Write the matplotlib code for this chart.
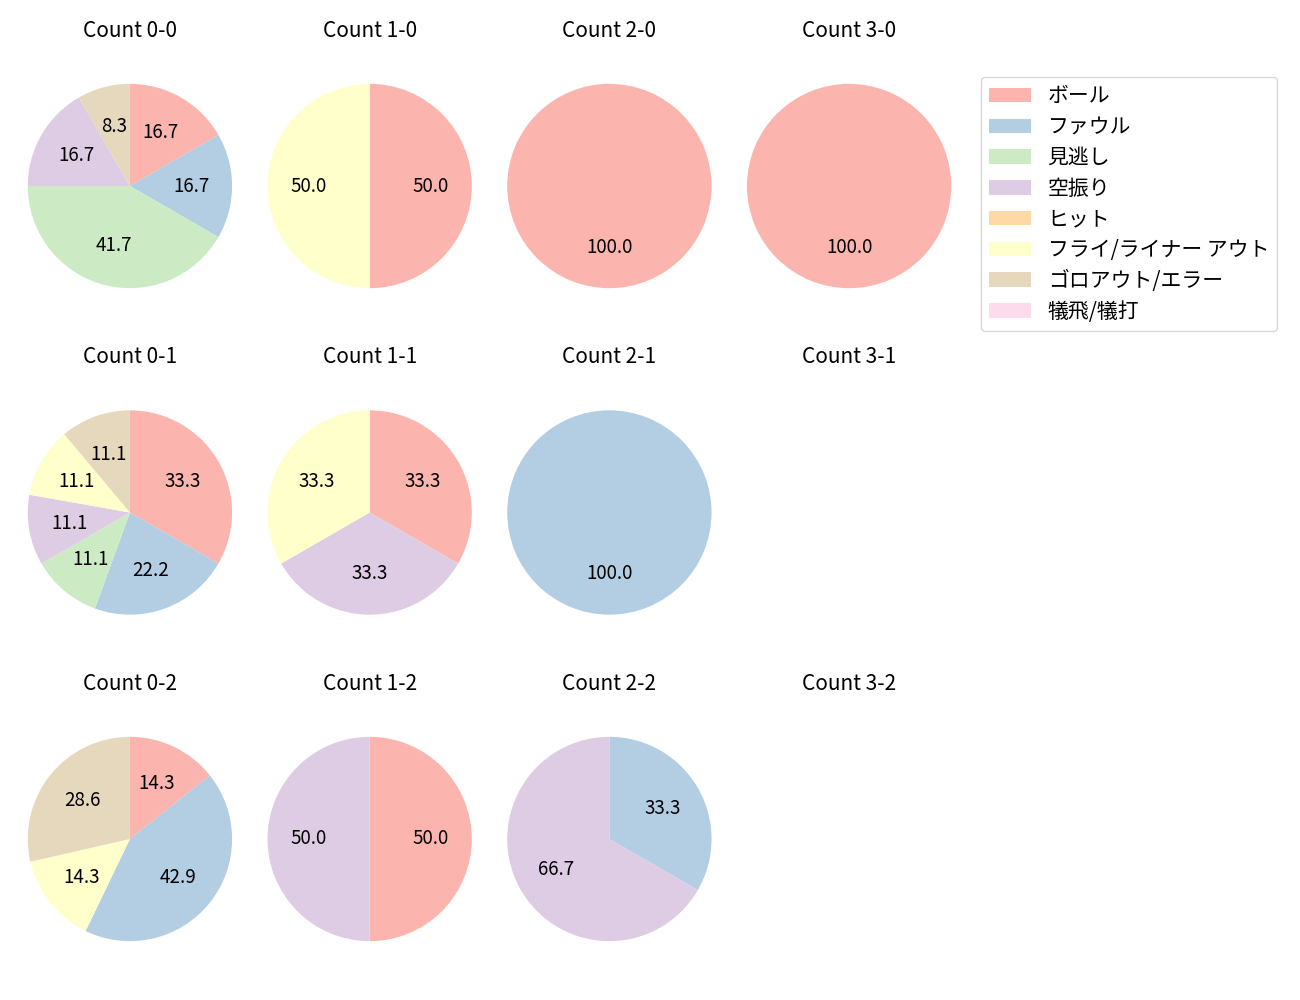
import matplotlib
matplotlib.use("Agg")
import matplotlib.pyplot as plt
from matplotlib.patches import Patch

plt.rcParams['font.family'] = ['Noto Sans CJK JP', 'DejaVu Sans']

categories = ["ボール", "ファウル", "見逃し", "空振り", "ヒット",
              "フライ/ライナー アウト", "ゴロアウト/エラー", "犠飛/犠打"]
colors = ["#fbb4ae", "#b3cde3", "#ccebc5", "#decbe4", "#fed9a6",
          "#ffffcc", "#e5d8bd", "#fddaec"]

balls = [0, 1, 2, 3]
strikes = [0, 1, 2]

# pitch counts per category for each ball-strike count
counts = {
    "0-0": [2, 2, 5, 2, 0, 0, 1, 0],
    "1-0": [1, 0, 0, 0, 0, 1, 0, 0],
    "2-0": [1, 0, 0, 0, 0, 0, 0, 0],
    "3-0": [1, 0, 0, 0, 0, 0, 0, 0],
    "0-1": [3, 2, 1, 1, 0, 1, 1, 0],
    "1-1": [1, 0, 0, 1, 0, 1, 0, 0],
    "2-1": [0, 1, 0, 0, 0, 0, 0, 0],
    "3-1": [0, 0, 0, 0, 0, 0, 0, 0],
    "0-2": [1, 3, 0, 0, 0, 1, 2, 0],
    "1-2": [1, 0, 0, 1, 0, 0, 0, 0],
    "2-2": [0, 1, 0, 2, 0, 0, 0, 0],
    "3-2": [0, 0, 0, 0, 0, 0, 0, 0],
}

fig, axes = plt.subplots(3, 4, figsize=(13, 10))
plt.subplots_adjust(left=0.0135, right=0.7396, top=0.9265, bottom=0.0485,
                     wspace=0.0667, hspace=0.451)

for r, s in enumerate(strikes):
    for c, b in enumerate(balls):
        ax = axes[r, c]
        key = f"{b}-{s}"
        vals = counts[key]
        ax.set_title(f"Count {key}", fontsize=15, pad=26.5)
        ax.axis('off')
        if sum(vals) == 0:
            continue
        v = [x for x in vals if x > 0]
        col = [colors[i] for i, x in enumerate(vals) if x > 0]
        ax.pie(v, colors=col, startangle=90, counterclock=False,
               autopct='%.1f', textprops={'fontsize': 13.5})
        ax.set_xlim(-1.1, 1.1)
        ax.set_ylim(-1.1, 1.1)
        ax.set_aspect('equal')

handles = [Patch(facecolor=colors[i], label=categories[i]) for i in range(len(categories))]
fig.legend(handles=handles, loc='upper left', bbox_to_anchor=(0.7546, 0.923),
           borderaxespad=0, fontsize=15, labelspacing=0.42)

plt.savefig("out.png", dpi=100)
